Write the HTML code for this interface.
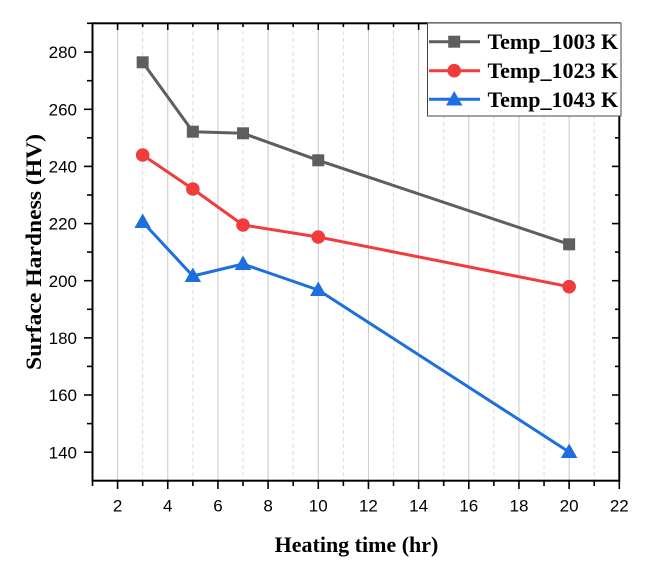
<!DOCTYPE html>
<html><head><meta charset="utf-8"><style>
html,body{margin:0;padding:0;background:#fff;}
svg{display:block;}
</style></head><body>
<svg width="657" height="572" viewBox="0 0 657 572" xmlns="http://www.w3.org/2000/svg">
<rect width="657" height="572" fill="#fff"/>
<g id="grid">
<!-- major solid -->
<g stroke="#c9c9c9" stroke-width="1">
<line x1="117.59" y1="24" x2="117.59" y2="480"/>
<line x1="167.76" y1="24" x2="167.76" y2="480"/>
<line x1="217.93" y1="24" x2="217.93" y2="480"/>
<line x1="268.10" y1="24" x2="268.10" y2="480"/>
<line x1="318.27" y1="24" x2="318.27" y2="480"/>
<line x1="368.44" y1="24" x2="368.44" y2="480"/>
<line x1="418.61" y1="24" x2="418.61" y2="480"/>
<line x1="468.78" y1="24" x2="468.78" y2="480"/>
<line x1="518.95" y1="24" x2="518.95" y2="480"/>
<line x1="569.13" y1="24" x2="569.13" y2="480"/>
</g>
<g stroke="#dcdcdc" stroke-width="1" stroke-dasharray="4,3">
<line x1="142.67" y1="24" x2="142.67" y2="480"/>
<line x1="192.84" y1="24" x2="192.84" y2="480"/>
<line x1="243.01" y1="24" x2="243.01" y2="480"/>
<line x1="293.18" y1="24" x2="293.18" y2="480"/>
<line x1="343.35" y1="24" x2="343.35" y2="480"/>
<line x1="393.52" y1="24" x2="393.52" y2="480"/>
<line x1="443.69" y1="24" x2="443.69" y2="480"/>
<line x1="493.86" y1="24" x2="493.86" y2="480"/>
<line x1="544.04" y1="24" x2="544.04" y2="480"/>
<line x1="594.21" y1="24" x2="594.21" y2="480"/>
</g>
</g>

<!-- ticks -->
<g stroke="#000" stroke-width="1.6">
<!-- bottom -->
<line x1="92.5" y1="480.7" x2="92.5" y2="486"/>
<line x1="117.59" y1="480.7" x2="117.59" y2="489"/>
<line x1="142.67" y1="480.7" x2="142.67" y2="486"/>
<line x1="167.76" y1="480.7" x2="167.76" y2="489"/>
<line x1="192.84" y1="480.7" x2="192.84" y2="486"/>
<line x1="217.93" y1="480.7" x2="217.93" y2="489"/>
<line x1="243.01" y1="480.7" x2="243.01" y2="486"/>
<line x1="268.10" y1="480.7" x2="268.10" y2="489"/>
<line x1="293.18" y1="480.7" x2="293.18" y2="486"/>
<line x1="318.27" y1="480.7" x2="318.27" y2="489"/>
<line x1="343.35" y1="480.7" x2="343.35" y2="486"/>
<line x1="368.44" y1="480.7" x2="368.44" y2="489"/>
<line x1="393.52" y1="480.7" x2="393.52" y2="486"/>
<line x1="418.61" y1="480.7" x2="418.61" y2="489"/>
<line x1="443.69" y1="480.7" x2="443.69" y2="486"/>
<line x1="468.78" y1="480.7" x2="468.78" y2="489"/>
<line x1="493.86" y1="480.7" x2="493.86" y2="486"/>
<line x1="518.95" y1="480.7" x2="518.95" y2="489"/>
<line x1="544.04" y1="480.7" x2="544.04" y2="486"/>
<line x1="569.13" y1="480.7" x2="569.13" y2="489"/>
<line x1="594.21" y1="480.7" x2="594.21" y2="486"/>
<line x1="619.3" y1="480.7" x2="619.3" y2="489"/>
<!-- top inward -->
<line x1="117.59" y1="23.3" x2="117.59" y2="30"/>
<line x1="142.67" y1="23.3" x2="142.67" y2="27"/>
<line x1="167.76" y1="23.3" x2="167.76" y2="30"/>
<line x1="192.84" y1="23.3" x2="192.84" y2="27"/>
<line x1="217.93" y1="23.3" x2="217.93" y2="30"/>
<line x1="243.01" y1="23.3" x2="243.01" y2="27"/>
<line x1="268.10" y1="23.3" x2="268.10" y2="30"/>
<line x1="293.18" y1="23.3" x2="293.18" y2="27"/>
<line x1="318.27" y1="23.3" x2="318.27" y2="30"/>
<line x1="343.35" y1="23.3" x2="343.35" y2="27"/>
<line x1="368.44" y1="23.3" x2="368.44" y2="30"/>
<line x1="393.52" y1="23.3" x2="393.52" y2="27"/>
<line x1="418.61" y1="23.3" x2="418.61" y2="30"/>
<!-- left outward -->
<line x1="92.5" y1="23.3" x2="87" y2="23.3"/>
<line x1="92.5" y1="52.1" x2="84" y2="52.1"/>
<line x1="92.5" y1="80.7" x2="87" y2="80.7"/>
<line x1="92.5" y1="109.3" x2="84" y2="109.3"/>
<line x1="92.5" y1="137.8" x2="87" y2="137.8"/>
<line x1="92.5" y1="166.4" x2="84" y2="166.4"/>
<line x1="92.5" y1="195.0" x2="87" y2="195.0"/>
<line x1="92.5" y1="223.6" x2="84" y2="223.6"/>
<line x1="92.5" y1="252.1" x2="87" y2="252.1"/>
<line x1="92.5" y1="280.7" x2="84" y2="280.7"/>
<line x1="92.5" y1="309.3" x2="87" y2="309.3"/>
<line x1="92.5" y1="337.9" x2="84" y2="337.9"/>
<line x1="92.5" y1="366.4" x2="87" y2="366.4"/>
<line x1="92.5" y1="395.0" x2="84" y2="395.0"/>
<line x1="92.5" y1="423.6" x2="87" y2="423.6"/>
<line x1="92.5" y1="452.2" x2="84" y2="452.2"/>
<!-- right inward -->
<line x1="619.3" y1="137.8" x2="615" y2="137.8"/>
<line x1="619.3" y1="166.4" x2="612" y2="166.4"/>
<line x1="619.3" y1="195.0" x2="615" y2="195.0"/>
<line x1="619.3" y1="223.6" x2="612" y2="223.6"/>
<line x1="619.3" y1="252.1" x2="615" y2="252.1"/>
<line x1="619.3" y1="280.7" x2="612" y2="280.7"/>
<line x1="619.3" y1="309.3" x2="615" y2="309.3"/>
<line x1="619.3" y1="337.9" x2="612" y2="337.9"/>
<line x1="619.3" y1="366.4" x2="615" y2="366.4"/>
<line x1="619.3" y1="395.0" x2="612" y2="395.0"/>
<line x1="619.3" y1="423.6" x2="615" y2="423.6"/>
<line x1="619.3" y1="452.2" x2="612" y2="452.2"/>
</g>

<!-- frame -->
<rect x="92.5" y="23.3" width="526.8" height="457.4" fill="none" stroke="#000" stroke-width="2"/>

<!-- tick labels -->
<g font-family="'Liberation Sans', Arial, sans-serif" font-size="17" fill="#000">
<g text-anchor="end">
<text x="77" y="58.2">280</text>
<text x="77" y="115.4">260</text>
<text x="77" y="172.5">240</text>
<text x="77" y="229.7">220</text>
<text x="77" y="286.8">200</text>
<text x="77" y="344.0">180</text>
<text x="77" y="401.1">160</text>
<text x="77" y="458.3">140</text>
</g>
<g text-anchor="middle">
<text x="117.59" y="511.5">2</text>
<text x="167.76" y="511.5">4</text>
<text x="217.93" y="511.5">6</text>
<text x="268.10" y="511.5">8</text>
<text x="318.27" y="511.5">10</text>
<text x="368.44" y="511.5">12</text>
<text x="418.61" y="511.5">14</text>
<text x="468.78" y="511.5">16</text>
<text x="518.95" y="511.5">18</text>
<text x="569.13" y="511.5">20</text>
<text x="619.3" y="511.5">22</text>
</g>
</g>

<!-- axis titles -->
<text x="356.5" y="552" text-anchor="middle" font-family="'Liberation Serif', 'Times New Roman', serif" font-weight="bold" font-size="22" fill="#000">Heating time (hr)</text>
<text transform="translate(41,252) rotate(-90)" text-anchor="middle" font-family="'Liberation Serif', 'Times New Roman', serif" font-weight="bold" font-size="22" fill="#000" textLength="236" lengthAdjust="spacingAndGlyphs">Surface Hardness (HV)</text>

<!-- series -->
<g fill="none" stroke-width="3" stroke-linejoin="round">
<polyline stroke="#5e5e5e" points="142.67,62.3 192.84,131.7 243.01,133.3 318.27,160.3 569.13,244.3"/>
<polyline stroke="#f03c3c" points="142.67,155 192.84,189 243.01,225 318.27,237 569.13,286.7"/>
<polyline stroke="#1d6fe0" points="142.67,222 192.84,276 243.01,264 318.27,290 569.13,452"/>
</g>
<g fill="#5e5e5e">
<rect x="136.67" y="56.3" width="12" height="12"/>
<rect x="186.84" y="125.7" width="12" height="12"/>
<rect x="237.01" y="127.3" width="12" height="12"/>
<rect x="312.27" y="154.3" width="12" height="12"/>
<rect x="563.13" y="238.3" width="12" height="12"/>
</g>
<g fill="#f03c3c">
<circle cx="142.67" cy="155" r="6.8"/>
<circle cx="192.84" cy="189" r="6.8"/>
<circle cx="243.01" cy="225" r="6.8"/>
<circle cx="318.27" cy="237" r="6.8"/>
<circle cx="569.13" cy="286.7" r="6.8"/>
</g>
<g fill="#1d6fe0">
<polygon points="142.67,213.5 150.9,228 134.4,228"/>
<polygon points="192.84,267.5 201.1,282 184.6,282"/>
<polygon points="243.01,255.5 251.3,270 234.7,270"/>
<polygon points="318.27,281.5 326.5,296 310,296"/>
<polygon points="569.13,443.5 577.4,458 560.9,458"/>
</g>

<!-- legend -->
<rect x="427.5" y="23" width="193.5" height="93" fill="#fff" stroke="#444" stroke-width="1"/>
<g stroke-width="3">
<line x1="429" y1="41.7" x2="480" y2="41.7" stroke="#5e5e5e"/>
<line x1="429" y1="70.7" x2="480" y2="70.7" stroke="#f03c3c"/>
<line x1="429" y1="99.3" x2="480" y2="99.3" stroke="#1d6fe0"/>
</g>
<rect x="448.2" y="35.7" width="12" height="12" fill="#5e5e5e"/>
<circle cx="454.2" cy="70.7" r="6.8" fill="#f03c3c"/>
<polygon points="454.2,91 462.4,105.5 446,105.5" fill="#1d6fe0"/>
<g font-family="'Liberation Serif', 'Times New Roman', serif" font-weight="bold" font-size="22" fill="#000">
<text x="487.5" y="49">Temp_1003 K</text>
<text x="487.5" y="78">Temp_1023 K</text>
<text x="487.5" y="106.8">Temp_1043 K</text>
</g>
</svg>
</body></html>
